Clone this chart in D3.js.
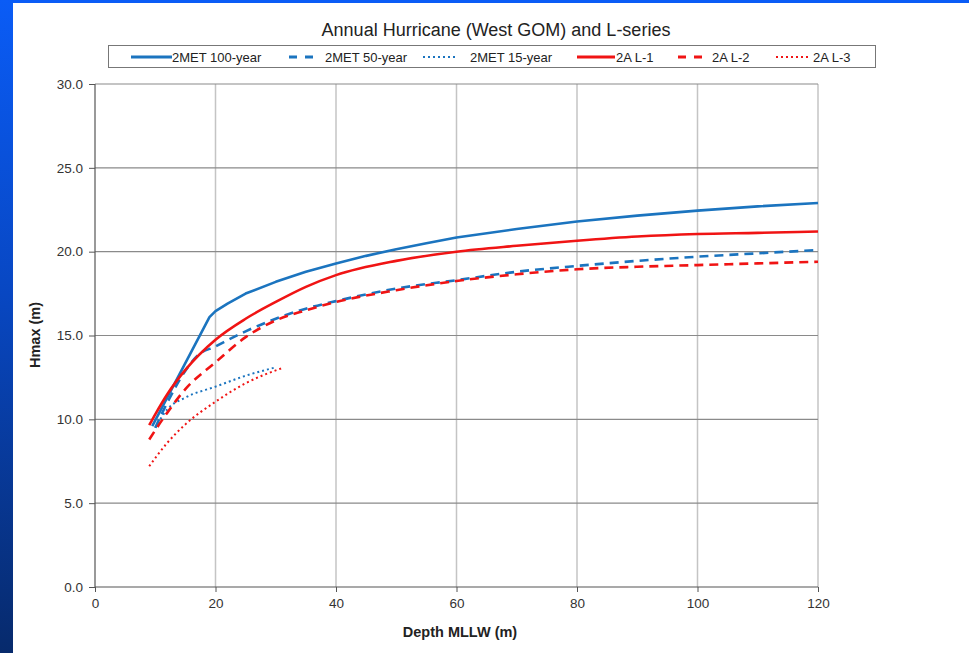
<!DOCTYPE html>
<html>
<head>
<meta charset="utf-8">
<script src="https://cdn.jsdelivr.net/npm/d3@7"></script>
<style>
  html, body { margin: 0; padding: 0; background: #fff; }
  svg { display: block; font-family: "Liberation Sans", Arial, sans-serif; }
</style>
</head>
<body>
<svg id="chart" width="969" height="653"></svg>
<script>
// Depth (m) and Hmax (m) for each curve
const met100X = [9.5, 19, 20, 22, 25, 30, 35, 40, 45, 50, 55, 60, 70, 80, 90, 100, 110, 120];
const met100Y = [9.6, 16.1, 16.45, 16.9, 17.5, 18.2, 18.8, 19.3, 19.75, 20.15, 20.5, 20.85, 21.35, 21.8, 22.15, 22.45, 22.7, 22.9];

const met50X = [10, 12, 15, 17, 20, 25, 30, 35, 40, 50, 60, 70, 80, 90, 100, 110, 120];
const met50Y = [9.5, 11.0, 12.9, 13.8, 14.35, 15.25, 16.0, 16.6, 17.05, 17.8, 18.3, 18.8, 19.15, 19.45, 19.7, 19.9, 20.1];

const met15X = [10, 12, 15, 20, 25, 30];
const met15Y = [9.5, 10.6, 11.3, 11.95, 12.6, 13.1];

const l1X = [9, 10, 12, 15, 20, 25, 30, 35, 40, 50, 60, 70, 80, 90, 100, 110, 120];
const l1Y = [9.65, 10.3, 11.5, 12.95, 14.75, 16.0, 17.0, 17.9, 18.6, 19.45, 20.0, 20.35, 20.65, 20.9, 21.05, 21.12, 21.2];

const l2X = [9, 12, 15, 20, 25, 30, 35, 40, 50, 60, 70, 80, 90, 100, 110, 120];
const l2Y = [8.8, 10.4, 11.8, 13.4, 14.9, 15.9, 16.5, 17.0, 17.7, 18.25, 18.65, 18.95, 19.1, 19.2, 19.3, 19.4];

const l3X = [9, 12, 15, 20, 25, 31];
const l3Y = [7.2, 8.6, 9.7, 11.05, 12.15, 13.05];

const seriesNames = ["2MET 100-year", "2MET 50-year", "2MET 15-year", "2A L-1", "2A L-2", "2A L-3"];
const xTicks = [0, 20, 40, 60, 80, 100, 120];
const yTicks = [0, 5, 10, 15, 20, 25, 30];

const BLUE = "#1b74bf", RED = "#f01414";
const series = [
  { name: seriesNames[0], xs: met100X, ys: met100Y, color: BLUE, dash: null,  curve: d3.curveLinear },
  { name: seriesNames[1], xs: met50X,  ys: met50Y,  color: BLUE, dash: "9,6", curve: d3.curveMonotoneX },
  { name: seriesNames[2], xs: met15X,  ys: met15Y,  color: BLUE, dash: "2,3", curve: d3.curveMonotoneX },
  { name: seriesNames[3], xs: l1X,     ys: l1Y,     color: RED,  dash: null,  curve: d3.curveMonotoneX },
  { name: seriesNames[4], xs: l2X,     ys: l2Y,     color: RED,  dash: "9,6", curve: d3.curveMonotoneX },
  { name: seriesNames[5], xs: l3X,     ys: l3Y,     color: RED,  dash: "2,3", curve: d3.curveMonotoneX }
];

const svg = d3.select("#chart");
const W = 969, H = 653;

// slide frame: blue gradient band on the left and top
const defs = svg.append("defs");
const grad = defs.append("linearGradient").attr("id", "frameGrad")
  .attr("x1", 0).attr("y1", 0).attr("x2", 0).attr("y2", 1);
grad.append("stop").attr("offset", "0%").attr("stop-color", "#0a5cf6");
grad.append("stop").attr("offset", "45%").attr("stop-color", "#0847c2");
grad.append("stop").attr("offset", "100%").attr("stop-color", "#072a6c");
svg.append("rect").attr("width", W).attr("height", H).attr("fill", "#fff");
svg.append("rect").attr("x", 0).attr("y", 0).attr("width", W).attr("height", 3).attr("fill", "#0a5cf6");
svg.append("rect").attr("x", 0).attr("y", 0).attr("width", 13).attr("height", H).attr("fill", "url(#frameGrad)");

const plot = { left: 95, right: 818, top: 84, bottom: 587 };
const x = d3.scaleLinear().domain([0, 120]).range([plot.left, plot.right]);
const y = d3.scaleLinear().domain([0, 30]).range([plot.bottom, plot.top]);

// gridlines
svg.append("g").selectAll("line").data(xTicks.filter(t => t > 0)).join("line")
  .attr("x1", d => x(d)).attr("x2", d => x(d))
  .attr("y1", plot.top).attr("y2", plot.bottom)
  .attr("stroke", "#c4c4c4").attr("stroke-width", 1.5);
svg.append("g").selectAll("line").data(yTicks.filter(t => t > 0)).join("line")
  .attr("x1", plot.left).attr("x2", plot.right)
  .attr("y1", d => y(d)).attr("y2", d => y(d))
  .attr("stroke", "#8a8a8a").attr("stroke-width", 1.2);

// axes
const yAxis = d3.axisLeft(y).tickValues(yTicks).tickFormat(d3.format(".1f")).tickSize(6).tickPadding(6);
const xAxis = d3.axisBottom(x).tickValues(xTicks).tickFormat(d3.format("d")).tickSize(5).tickPadding(6);
const gy = svg.append("g").attr("transform", `translate(${plot.left},0)`).call(yAxis);
const gx = svg.append("g").attr("transform", `translate(0,${plot.bottom})`).call(xAxis);
[gy, gx].forEach(g => {
  g.select(".domain").attr("stroke", "#555").attr("stroke-width", 1.2);
  g.selectAll(".tick line").attr("stroke", "#555");
  g.selectAll(".tick text").attr("fill", "#333").attr("font-size", 13.5)
    .attr("font-family", "Liberation Sans, Arial, sans-serif");
});
gx.select(".domain").attr("d", `M${plot.left},0H${plot.right}`);
gy.select(".domain").attr("d", `M0,${plot.top}V${plot.bottom}`);

// series lines
const line = d3.line().x(d => x(d[0])).y(d => y(d[1]));
const lineG = svg.append("g");
series.forEach(s => {
  const pts = s.xs.map((v, i) => [v, s.ys[i]]);
  lineG.append("path")
    .attr("d", line.curve(s.curve)(pts))
    .attr("fill", "none")
    .attr("stroke", s.color)
    .attr("stroke-width", s.dash === "2,3" ? 2 : 2.6)
    .attr("stroke-dasharray", s.dash)
    .attr("stroke-linejoin", "round");
});

// title
svg.append("text").attr("x", 496).attr("y", 36).attr("text-anchor", "middle")
  .attr("font-size", 18).attr("fill", "#222")
  .text("Annual Hurricane (West GOM) and L-series");

// legend
svg.append("rect").attr("x", 108.5).attr("y", 45.5).attr("width", 767).attr("height", 22)
  .attr("fill", "#fff").attr("stroke", "#777").attr("stroke-width", 1);
const legendLineX = [131, 289, 423, 577, 678, 776];
const legendLineLen = [41, 26, 34, 38, 28, 32];
const legendTextX = [172, 325, 470, 616, 712, 813];
const lg = svg.append("g");
series.forEach((s, i) => {
  const x0 = legendLineX[i];
  lg.append("line").attr("x1", x0).attr("x2", x0 + legendLineLen[i]).attr("y1", 57).attr("y2", 57)
    .attr("stroke", s.color).attr("stroke-width", s.dash === "2,3" ? 2 : 2.8)
    .attr("stroke-dasharray", s.dash === "9,6" ? "8,8" : s.dash);
  lg.append("text").attr("x", legendTextX[i]).attr("y", 61.5)
    .attr("font-size", 13).attr("fill", "#222").text(s.name);
});

// axis titles
svg.append("text").attr("transform", "translate(40,335) rotate(-90)")
  .attr("text-anchor", "middle").attr("font-size", 14.5).attr("font-weight", "bold").attr("fill", "#222")
  .text("Hmax (m)");
svg.append("text").attr("x", 460).attr("y", 637).attr("text-anchor", "middle")
  .attr("font-size", 14.5).attr("font-weight", "bold").attr("fill", "#222")
  .text("Depth MLLW (m)");
</script>
</body>
</html>
